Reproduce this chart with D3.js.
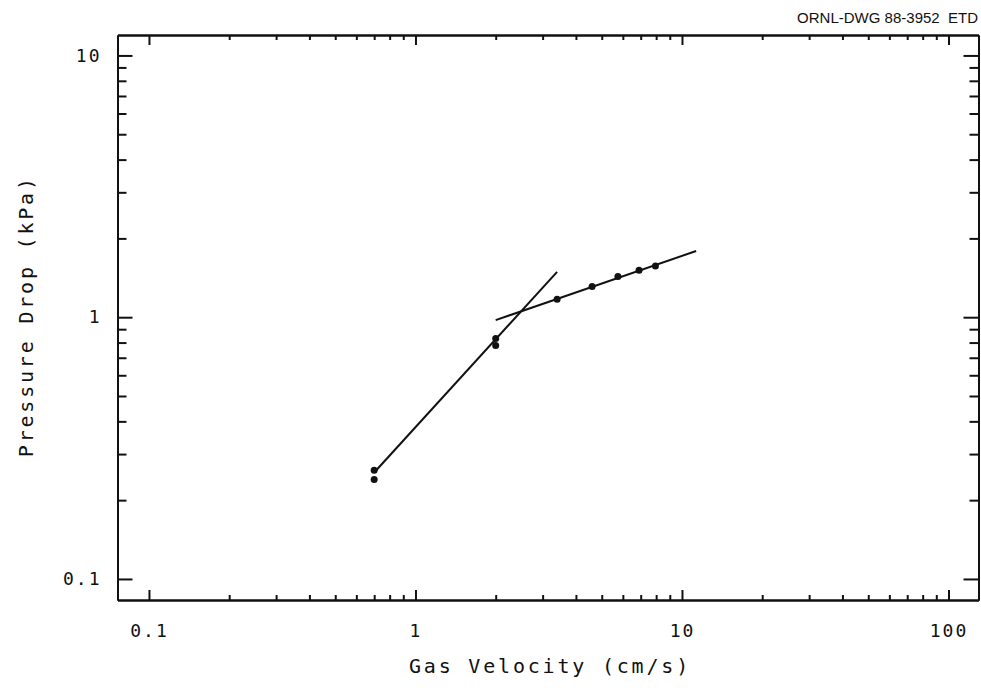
<!DOCTYPE html>
<html>
<head>
<meta charset="utf-8">
<script src="https://cdn.jsdelivr.net/npm/d3@7"></script>
<style>
  body { margin: 0; background: #fff; }
  svg { display: block; }
  .axis path { stroke: #111; stroke-width: 2; }
  .axis line { stroke: #111; stroke-width: 2; }
  .axis text { font-family: "DejaVu Sans Mono", monospace; font-size: 18px; fill: #111; letter-spacing: 2px; }
  .label { font-family: "DejaVu Sans Mono", monospace; font-size: 20px; fill: #111; letter-spacing: 2.8px; }
  .fit { fill: none; stroke: #111; stroke-width: 2; }
</style>
</head>
<body>
<div id="chart"></div>
<script>
// measured points, gas velocity (cm/s) vs pressure drop (kPa)
var velocity = [0.7, 0.7, 2.0, 2.0, 3.4, 4.6, 5.75, 6.9, 7.95];
var pressure = [0.26, 0.24, 0.83, 0.78, 1.17, 1.31, 1.43, 1.51, 1.57];

// the two fitted lines
var lowFitX = [0.7, 3.4];
var lowFitY = [0.255, 1.49];
var highFitX = [2.0, 11.3];
var highFitY = [0.975, 1.79];

var xMajor = [0.1, 1, 10, 100];
var yMajor = [0.1, 1, 10];
var xTickLabels = ["0.1", "1", "10", "100"];
var yTickLabels = ["0.1", "1", "10"];

var width = 981, height = 688;
var margin = {top: 35, right: 2.5, bottom: 88, left: 117.5};
var innerW = width - margin.left - margin.right;
var innerH = height - margin.top - margin.bottom;

var svg = d3.select("#chart").append("svg")
    .attr("width", width)
    .attr("height", height);

var g = svg.append("g")
    .attr("transform", "translate(" + margin.left + "," + margin.top + ")");

var x = d3.scaleLog().domain([0.0762, 129.6]).range([0, innerW]);
var y = d3.scaleLog().domain([0.0831, 11.97]).range([innerH, 0]);

//minor ticks are the 2..9 multiples inside the labelled decades
var xMinor = x.ticks().filter(function(d) {
    return d >= 0.1 && d <= 100 && xMajor.indexOf(d) < 0;
});
var yMinor = y.ticks().filter(function(d) {
    return d >= 0.1 && d <= 10 && yMajor.indexOf(d) < 0;
});

function fmt(list, labels) {
    return function(d) { return labels[list.indexOf(d)]; };
}

//bottom axis
g.append("g").attr("class", "axis")
    .attr("transform", "translate(0," + innerH + ")")
    .call(d3.axisBottom(x).tickValues(xMajor).tickSize(-10).tickSizeOuter(0)
        .tickPadding(24).tickFormat(fmt(xMajor, xTickLabels)));
g.append("g").attr("class", "axis")
    .attr("transform", "translate(0," + innerH + ")")
    .call(d3.axisBottom(x).tickValues(xMinor).tickSize(-5).tickSizeOuter(0).tickFormat(""));

//top axis
g.append("g").attr("class", "axis")
    .call(d3.axisTop(x).tickValues(xMajor).tickSize(-10).tickSizeOuter(0).tickFormat(""));
g.append("g").attr("class", "axis")
    .call(d3.axisTop(x).tickValues(xMinor).tickSize(-5).tickSizeOuter(0).tickFormat(""));

//left axis
g.append("g").attr("class", "axis")
    .call(d3.axisLeft(y).tickValues(yMajor).tickSize(-15).tickSizeOuter(0)
        .tickPadding(16).tickFormat(fmt(yMajor, yTickLabels)));
g.append("g").attr("class", "axis")
    .call(d3.axisLeft(y).tickValues(yMinor).tickSize(-9).tickSizeOuter(0).tickFormat(""));

//right axis
g.append("g").attr("class", "axis")
    .attr("transform", "translate(" + innerW + ",0)")
    .call(d3.axisRight(y).tickValues(yMajor).tickSize(-15).tickSizeOuter(0).tickFormat(""));
g.append("g").attr("class", "axis")
    .attr("transform", "translate(" + innerW + ",0)")
    .call(d3.axisRight(y).tickValues(yMinor).tickSize(-9).tickSizeOuter(0).tickFormat(""));

//fitted lines
var line = d3.line()
    .x(function(d) { return x(d[0]); })
    .y(function(d) { return y(d[1]); });

g.append("path").attr("class", "fit")
    .attr("d", line(d3.zip(lowFitX, lowFitY)));
g.append("path").attr("class", "fit")
    .attr("d", line(d3.zip(highFitX, highFitY)));

//data points
g.selectAll("circle.pt")
    .data(d3.zip(velocity, pressure))
    .enter()
    .append("circle")
    .attr("class", "pt")
    .attr("cx", function(d) { return x(d[0]); })
    .attr("cy", function(d) { return y(d[1]); })
    .attr("r", 3.5)
    .attr("fill", "#111");

//axis titles
svg.append("text")
    .attr("class", "label")
    .attr("x", margin.left + x(Math.sqrt(0.0762 * 129.6)) + 2)
    .attr("y", 673)
    .attr("text-anchor", "middle")
    .text("Gas Velocity (cm/s)");

svg.append("text")
    .attr("class", "label")
    .attr("transform", "translate(33," + (margin.top + y(1) - 1) + ") rotate(-90)")
    .attr("text-anchor", "middle")
    .text("Pressure Drop (kPa)");

//drawing number, top right
svg.append("text")
    .attr("x", 978)
    .attr("y", 23)
    .attr("text-anchor", "end")
    .attr("font-family", "Liberation Sans, Arial, sans-serif")
    .attr("font-size", 15)
    .attr("fill", "#111")
    .style("white-space", "pre")
    .text("ORNL-DWG 88-3952  ETD");
</script>
</body>
</html>
